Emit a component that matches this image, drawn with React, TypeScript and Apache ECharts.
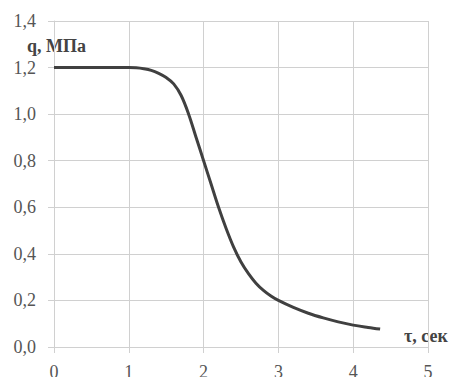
import React, { useEffect, useRef } from "react";
import * as echarts from "echarts";

const tValues = [0, 0.5, 1.0, 1.1, 1.2, 1.3, 1.4, 1.5, 1.6, 1.7, 1.8, 1.9, 2.0, 2.1, 2.2, 2.3, 2.4, 2.5, 2.6, 2.7, 2.8, 2.9, 3.0, 3.2, 3.4, 3.6, 3.8, 4.0, 4.2, 4.36];
const qValues = [1.2, 1.2, 1.2, 1.199, 1.195, 1.188, 1.175, 1.157, 1.13, 1.08, 1.0, 0.9, 0.8, 0.7, 0.6, 0.51, 0.43, 0.365, 0.315, 0.274, 0.243, 0.219, 0.2, 0.17, 0.145, 0.125, 0.108, 0.094, 0.084, 0.077];
const yAxisTitle = "q, МПа";
const xAxisTitle = "τ, сек";

export default function App() {
  const ref = useRef<HTMLDivElement>(null);
  useEffect(() => {
    document.body.style.margin = "0";
    const chart = echarts.init(ref.current!, null, { renderer: "svg" });
    const font = "Liberation Serif";
    const gridColor = "#d0d0d0";
    chart.setOption({
      animation: false,
      backgroundColor: "#ffffff",
      grid: { left: 54, right: 32, top: 21, bottom: 30, containLabel: false, outerBoundsMode: "none" },
      xAxis: {
        type: "value",
        min: 0,
        max: 5,
        interval: 1,
        axisLine: { show: true, lineStyle: { color: gridColor, width: 1 } },
        axisTick: { show: true, length: 6, lineStyle: { color: gridColor } },
        splitLine: { show: true, lineStyle: { color: gridColor, width: 1 } },
        axisLabel: { color: "#555555", fontFamily: font, fontSize: 18, margin: 16 },
      },
      yAxis: {
        type: "value",
        min: 0,
        max: 1.4,
        interval: 0.2,
        axisLine: { show: true, lineStyle: { color: gridColor, width: 1 } },
        axisTick: { show: true, length: 6, lineStyle: { color: gridColor } },
        splitLine: { show: true, lineStyle: { color: gridColor, width: 1 } },
        axisLabel: {
          color: "#555555",
          fontFamily: font,
          fontSize: 18,
          margin: 18,
          formatter: (v: number) => v.toFixed(1).replace(".", ","),
        },
      },
      graphic: [
        {
          type: "text",
          left: 27,
          top: 37,
          style: { text: yAxisTitle, fontFamily: font, fontSize: 18, fontWeight: "bold", fill: "#444444" },
        },
        {
          type: "text",
          left: 404,
          top: 327,
          style: { text: xAxisTitle, fontFamily: font, fontSize: 18, fontWeight: "bold", fill: "#444444" },
        },
      ],
      series: [
        {
          type: "line",
          data: tValues.map((t, i) => [t, qValues[i]]),
          smooth: 0.35,
          showSymbol: false,
          lineStyle: { color: "#404040", width: 3 },
        },
      ],
    });
    return () => chart.dispose();
  }, []);
  return <div ref={ref} style={{ position: "absolute", left: 0, top: 0, width: 460, height: 377 }} />;
}
